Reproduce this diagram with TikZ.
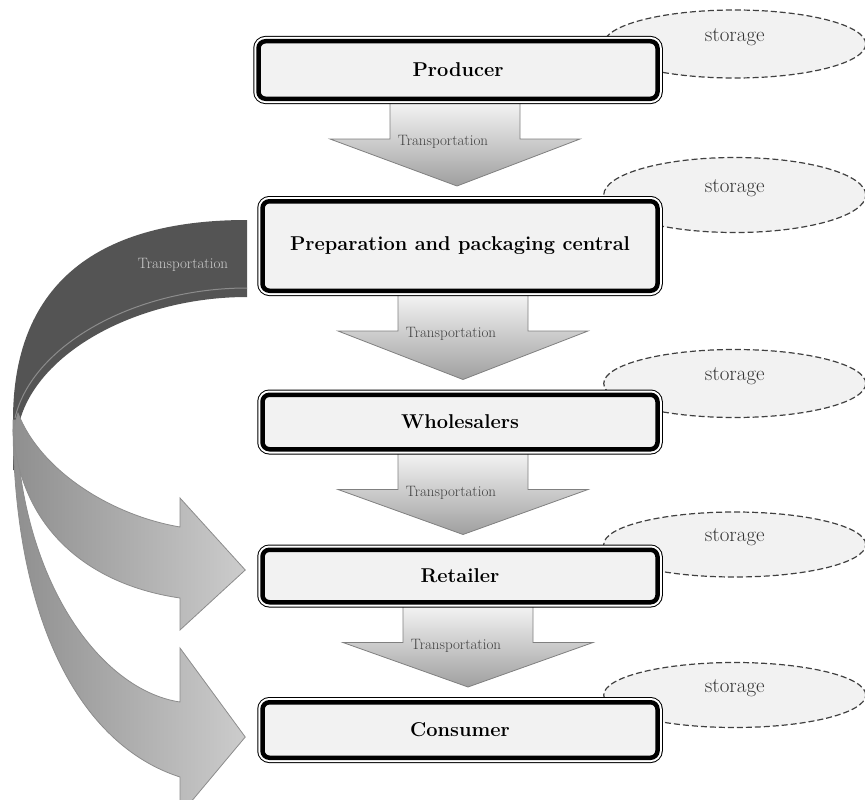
\documentclass[tikz,border=0pt]{standalone}
\usetikzlibrary{calc,shapes.geometric,backgrounds}

\tikzset{
  box/.style={rectangle, rounded corners=7pt, fill=gray!10, minimum width=395pt,
    preaction={draw=black, line width=10.5pt},
    preaction={draw=white, line width=8.5pt},
    draw=black, line width=4.5pt, inner sep=0pt,
    font=\fontsize{20}{24}\selectfont\bfseries},
  storage/.style={ellipse, draw=black!75, fill=gray!10, line width=1.2pt,
    dash pattern=on 6pt off 3pt, minimum width=262pt, inner sep=0pt},
  storetext/.style={font=\fontsize{21}{24}\selectfont, text=black!80},
  transarrow/.style={draw=gray, line width=0.8pt, top color=gray!8, bottom color=gray!75},
  transtext/.style={font=\fontsize{15}{17}\selectfont, text=black!75},
  lightarrow/.style={draw=gray!90, line width=0.8pt, left color=gray!88, right color=gray!40},
  darkband/.style={fill=black!67}
}

% from node, to node, x shift of the arrow
\newcommand{\transportarrow}[3]{
  \pgfmathsetmacro{\sh}{65}
  \pgfmathsetmacro{\hd}{125}
  \coordinate (tip) at ($(#2.north)+(#3,-13)$);
  \draw[transarrow] ($(#1.south)+(#3-\sh,0)$) -- ++(0,38) -- ++(\sh-\hd,0) -- (tip)
    -- ($(#1.south)+(#3+\hd,38)$) -- ++(\sh-\hd,0) -- ++(0,-38) -- cycle;
  \node[transtext] at ($(#1.south)+(#3-12,41)$) {Transportation};
}

\begin{document}
\begin{tikzpicture}[x=1pt,y=-1pt]
  \path[use as bounding box] (0,0) rectangle (865,800);

  \node[box, minimum height=57.5pt, minimum width=399pt] (producer) at (458,70) {Producer};
  \node[box, minimum height=89.5pt] (prep) at (460,246) {Preparation and packaging central};
  \node[box, minimum height=54.5pt] (whole) at (460,422) {Wholesalers};
  \node[box, minimum height=52.5pt] (retail) at (460,576) {Retailer};
  \node[box, minimum height=55.5pt] (consumer) at (460,730) {Consumer};

  \begin{scope}[on background layer]
    \foreach \b/\dy/\h in {producer/5/68,prep/-4/75,whole/-9/68,retail/-3/65,consumer/-5/65}{
      \node[storage, minimum height=\h pt] (s-\b) at ($(\b.north east)+(75,\dy)$) {};
      \node[storetext] at ($(s-\b)+(0,-7)$) {storage};
    }

    \transportarrow{producer}{prep}{-3}
    \transportarrow{prep}{whole}{3}
    \transportarrow{whole}{retail}{3}
    \transportarrow{retail}{consumer}{8}

    % curved arrows from the packaging central
    \coordinate (tipR) at ($(retail.west)+(-15,-6)$);
    \coordinate (tipC) at ($(consumer.west)+(-15,7)$);
    \fill[darkband] (247,220) .. controls (90,220) and (13,290) .. (13,420) -- (13,470)
      -- (19,470) -- (20,420) .. controls (40,350) and (140,297) .. (247,297) -- cycle;
    \draw[black!45, line width=1pt] (247,288) .. controls (135,288) and (32,345) .. (15,418);
    \node[transtext, text=white!80!black] at (183,265) {Transportation};

    \draw[lightarrow] (16,420) .. controls (20,580) and (100,690) .. (180,702) -- (180,648)
      -- (tipC) -- (180,815) -- (180,777) .. controls (80,745) and (13,620) .. (13,420) -- cycle;
    \draw[lightarrow] (18,413) .. controls (40,470) and (110,515) .. (180,527) -- (180,498)
      -- (tipR) -- (180,630) -- (180,598) .. controls (90,585) and (20,530) .. (13,430) -- cycle;
  \end{scope}
\end{tikzpicture}
\end{document}
